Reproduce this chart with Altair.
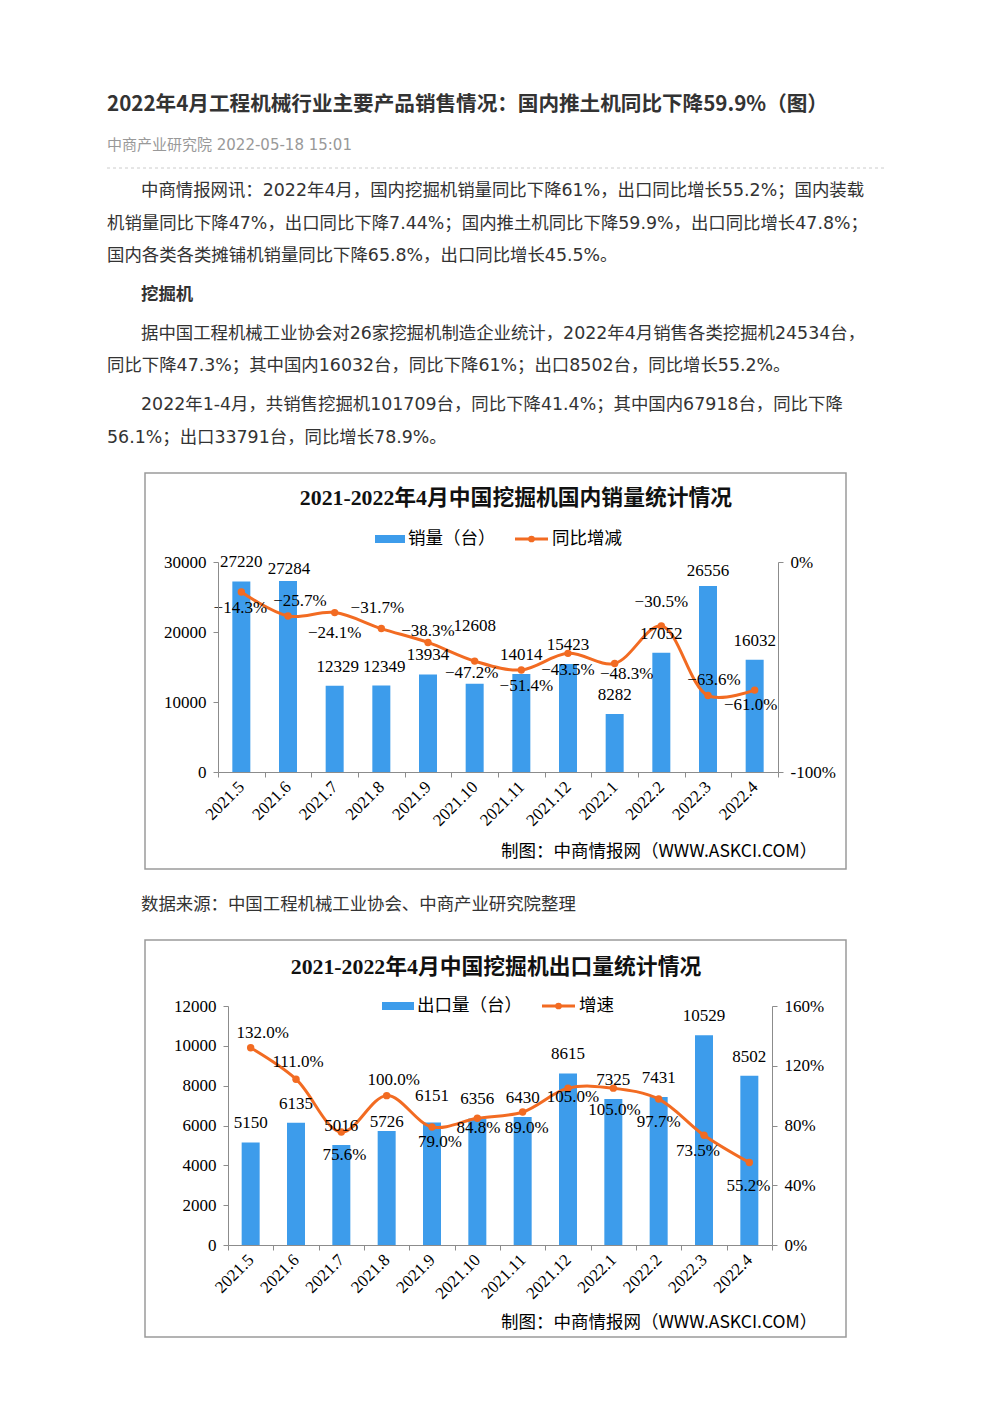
import altair as alt
import pandas as pd

# ---------------- data ----------------
months = ["2021.5", "2021.6", "2021.7", "2021.8", "2021.9", "2021.10",
          "2021.11", "2021.12", "2022.1", "2022.2", "2022.3", "2022.4"]
domestic_sales = [27220, 27284, 12329, 12349, 13934, 12608,
                  14014, 15423, 8282, 17052, 26556, 16032]
domestic_yoy = [-14.3, -25.7, -24.1, -31.7, -38.3, -47.2,
                -51.4, -43.5, -48.3, -30.5, -63.6, -61.0]
export_sales = [5150, 6135, 5016, 5726, 6151, 6356,
                6430, 8615, 7325, 7431, 10529, 8502]
export_growth = [132.0, 111.0, 75.6, 100.0, 79.0, 84.8,
                 89.0, 105.0, 105.0, 97.7, 73.5, 55.2]

left_ticks_1 = [0, 10000, 20000, 30000]
right_ticks_1 = [-100, 0]
left_ticks_2 = [0, 2000, 4000, 6000, 8000, 10000, 12000]
right_ticks_2 = [0, 40, 80, 120, 160]

article_title = "2022年4月工程机械行业主要产品销售情况：国内推土机同比下降59.9%（图）"
byline = "中商产业研究院 2022-05-18 15:01"
para1 = ["中商情报网讯：2022年4月，国内挖掘机销量同比下降61%，出口同比增长55.2%；国内装载",
         "机销量同比下降47%，出口同比下降7.44%；国内推土机同比下降59.9%，出口同比增长47.8%；",
         "国内各类各类摊铺机销量同比下降65.8%，出口同比增长45.5%。"]
subhead = "挖掘机"
para2 = ["据中国工程机械工业协会对26家挖掘机制造企业统计，2022年4月销售各类挖掘机24534台，",
         "同比下降47.3%；其中国内16032台，同比下降61%；出口8502台，同比增长55.2%。"]
para3 = ["2022年1-4月，共销售挖掘机101709台，同比下降41.4%；其中国内67918台，同比下降",
         "56.1%；出口33791台，同比增长78.9%。"]
caption = "数据来源：中国工程机械工业协会、中商产业研究院整理"
chart1_title = "2021-2022年4月中国挖掘机国内销量统计情况"
chart2_title = "2021-2022年4月中国挖掘机出口量统计情况"
legend1 = ["销量（台）", "同比增减"]
legend2 = ["出口量（台）", "增速"]
source_note = "制图：中商情报网（WWW.ASKCI.COM）"

# ---------------- styling / layout ----------------
W, H = 976, 1380
BLUE = "#3D9CEB"
ORANGE = "#F26B22"
TEXT = "#333333"
BODY_FONT = "DejaVu Sans, Noto Sans CJK SC"
CJK_FONT = "Noto Sans CJK SC"
NUM_FONT = "Liberation Serif, Noto Sans CJK SC"
TITLE_FONT = "Liberation Serif, Noto Sans CJK SC"
AXIS_GREY = "#8c8c8c"
NUM_SIZE = 17

# label offsets (dx, dy) relative to the data point -- label placement only
pct_off_1 = {"2021.5": (-1, 16), "2021.6": (12, -15), "2021.7": (0, 20), "2021.8": (-4, -21),
             "2021.9": (0, -11), "2021.10": (-3, 12), "2021.11": (5, 16), "2021.12": (0, 17),
             "2022.1": (12, 11), "2022.2": (0, -24), "2022.3": (6, -16), "2022.4": (-4, 15)}
pct_off_2 = {"2021.5": (12, -15), "2021.6": (2, -17), "2021.7": (3, 23), "2021.8": (7, -16),
             "2021.9": (8, 15), "2021.10": (1, 10), "2021.11": (4, 16), "2021.12": (5, 9),
             "2022.1": (1, 22), "2022.2": (0, 23), "2022.3": (-6, 16), "2022.4": (-1, 23)}
bar_off_1 = {m: (0, -19) for m in months}
bar_off_1.update({"2021.6": (1, -12), "2021.7": (3, -19), "2021.8": (3, -19),
                  "2021.10": (0, -58), "2022.3": (0, -15)})
bar_off_2 = {m: (0, -19) for m in months}
bar_off_2.update({"2021.8": (0, -9), "2021.9": (0, -26)})


def px(v):
    """page coordinate -> chart coordinate (8px page margin)"""
    return v - 8


one = pd.DataFrame({"k": [0]})


def txt(s, x, y, size=17.4, color=TEXT, weight="normal", font=BODY_FONT, align="left"):
    return alt.Chart(pd.DataFrame({"t": [s]})).mark_text(
        x=px(x), y=px(y), fontSize=size, color=color, fontWeight=weight,
        font=font, align=align, baseline="middle"
    ).encode(text="t:N")


def frame(x0, y0, x1, y1):
    return alt.Chart(one).mark_rect(fillOpacity=0, stroke="#9a9a9a", strokeWidth=1.5).encode(
        x=alt.value(px(x0)), x2=alt.value(px(x1)), y=alt.value(px(y0)), y2=alt.value(px(y1)))


def legend(rect_x0, rect_x1, line_x0, line_x1, y, labels, size=17.5):
    blue = alt.Chart(one).mark_rect(color=BLUE).encode(
        x=alt.value(px(rect_x0)), x2=alt.value(px(rect_x1)),
        y=alt.value(px(y - 4)), y2=alt.value(px(y + 4)))
    line = alt.Chart(one).mark_rule(color=ORANGE, strokeWidth=3).encode(
        x=alt.value(px(line_x0)), x2=alt.value(px(line_x1)), y=alt.value(px(y)))
    dot = alt.Chart(one).mark_point(color=ORANGE, filled=True, size=45, opacity=1).encode(
        x=alt.value(px((line_x0 + line_x1) / 2)), y=alt.value(px(y)))
    t1 = txt(labels[0], rect_x1 + 3, y, size=size, color="#000", font=CJK_FONT)
    t2 = txt(labels[1], line_x1 + 4, y, size=size, color="#000", font=CJK_FONT)
    return [blue, line, dot, t1, t2]


def axis(**kw):
    base = dict(grid=False, title=None, domainColor=AXIS_GREY, tickColor=AXIS_GREY,
                tickSize=5, domainWidth=1, tickWidth=1, labelColor="#000",
                labelFont=NUM_FONT, labelFontSize=NUM_SIZE, labelOverlap=False,
                labelBound=False, zindex=1)
    base.update(kw)
    return alt.Axis(**base)


def combo(df, val, pct, bar_dom, pct_dom, x_range, y_range, left_vals, right_vals,
          bar_off, pct_off):
    xl, xr = x_range
    yb, yt = y_range
    xscale = alt.Scale(domain=months, range=[px(xl), px(xr)], paddingInner=0, paddingOuter=0)

    def X(ax=None):
        return alt.X("month:N", sort=months, scale=xscale, axis=ax)

    ybar = alt.Scale(domain=bar_dom, range=[px(yb), px(yt)], nice=False, zero=True)
    ypct = alt.Scale(domain=pct_dom, range=[px(yb), px(yt)], nice=False, zero=False)

    x_axis = axis(orient="bottom", offset=px(yb) - H, labelAngle=-45, labelAlign="right",
                  labelBaseline="middle", tickBand="extent", labelPadding=7, labelFontSize=17)
    left_axis = axis(orient="left", offset=-px(xl), values=left_vals, format="d", labelPadding=7)
    right_axis = axis(orient="right", offset=px(xr) - W, values=right_vals,
                      labelExpr="datum.value + '%'", labelPadding=7)

    base = alt.Chart(df).transform_calculate(lbl=f"format(datum.{pct}, '.1f') + '%'")
    bars = base.mark_bar(width=18, color=BLUE).encode(
        x=X(x_axis), y=alt.Y(f"{val}:Q", scale=ybar, axis=left_axis))
    line = base.mark_line(color=ORANGE, strokeWidth=3, interpolate="catmull-rom").encode(
        x=X(), y=alt.Y(f"{pct}:Q", scale=ypct, axis=right_axis))
    pts = base.mark_point(color=ORANGE, filled=True, size=55, opacity=1).encode(
        x=X(), y=alt.Y(f"{pct}:Q", scale=ypct, axis=None))
    out = [bars, line, pts]

    def label_layers(offsets, yfield, yscale, text):
        groups = {}
        for m, o in offsets.items():
            groups.setdefault(o, []).append(m)
        res = []
        for (dx, dy), ms in groups.items():
            res.append(base.transform_filter(alt.FieldOneOfPredicate(field="month", oneOf=ms))
                       .mark_text(dx=dx, dy=dy, font=NUM_FONT, fontSize=NUM_SIZE, color="#000")
                       .encode(x=X(), y=alt.Y(f"{yfield}:Q", scale=yscale, axis=None), text=text))
        return res

    out += label_layers(bar_off, val, ybar, alt.Text(f"{val}:Q", format="d"))
    out += label_layers(pct_off, pct, ypct, alt.Text("lbl:N"))
    return out


df1 = pd.DataFrame({"month": months, "sales": domestic_sales, "yoy": domestic_yoy})
df2 = pd.DataFrame({"month": months, "sales": export_sales, "growth": export_growth})

layers = []
# ---- article header ----
layers.append(txt(article_title, 107, 105, size=20.6, color="#333", weight="bold", font=CJK_FONT))
layers.append(txt(byline, 107, 145, size=15, color="#999999"))
layers.append(alt.Chart(one).mark_rule(color="#cccccc", strokeDash=[3, 3], strokeWidth=1).encode(
    x=alt.value(px(107)), x2=alt.value(px(885)), y=alt.value(px(168))))
for i, (line, y) in enumerate(zip(para1, [191, 224, 256])):
    layers.append(txt(line, 141 if i == 0 else 107, y))
layers.append(txt(subhead, 141, 295, weight="bold", font=CJK_FONT))
for i, (line, y) in enumerate(zip(para2, [334, 366])):
    layers.append(txt(line, 141 if i == 0 else 107, y))
for i, (line, y) in enumerate(zip(para3, [405, 438])):
    layers.append(txt(line, 141 if i == 0 else 107, y))

# ---- chart 1 ----
layers.append(frame(145, 473, 846, 869))
layers.append(txt(chart1_title, 516, 498, size=21.8, color="#111", weight="bold",
                  font=TITLE_FONT, align="center"))
layers += legend(375, 405, 515, 548, 539, legend1)
layers += combo(df1, "sales", "yoy", [0, 30000], [-100, 0], (218, 778), (772, 562),
                left_ticks_1, right_ticks_1, bar_off_1, pct_off_1)
layers.append(txt(source_note, 501, 852, size=17.5, color="#000", font=CJK_FONT))

# ---- caption ----
layers.append(txt(caption, 141, 905))

# ---- chart 2 ----
layers.append(frame(145, 940, 846, 1337))
layers.append(txt(chart2_title, 496, 967, size=21.8, color="#111", weight="bold",
                  font=TITLE_FONT, align="center"))
layers += legend(382, 414, 542, 575, 1006, legend2)
layers += combo(df2, "sales", "growth", [0, 12000], [0, 160], (228, 772), (1245, 1006),
                left_ticks_2, right_ticks_2, bar_off_2, pct_off_2)
layers.append(txt(source_note, 501, 1323, size=17.5, color="#000", font=CJK_FONT))

chart = alt.layer(*layers).resolve_scale(
    x="independent", y="independent"
).properties(
    width=W, height=H, padding=0, background="white",
    autosize=alt.AutoSizeParams(type="none")
).configure_view(stroke=None)

chart.save("out.html", embed_options={"renderer": "svg", "actions": False})
